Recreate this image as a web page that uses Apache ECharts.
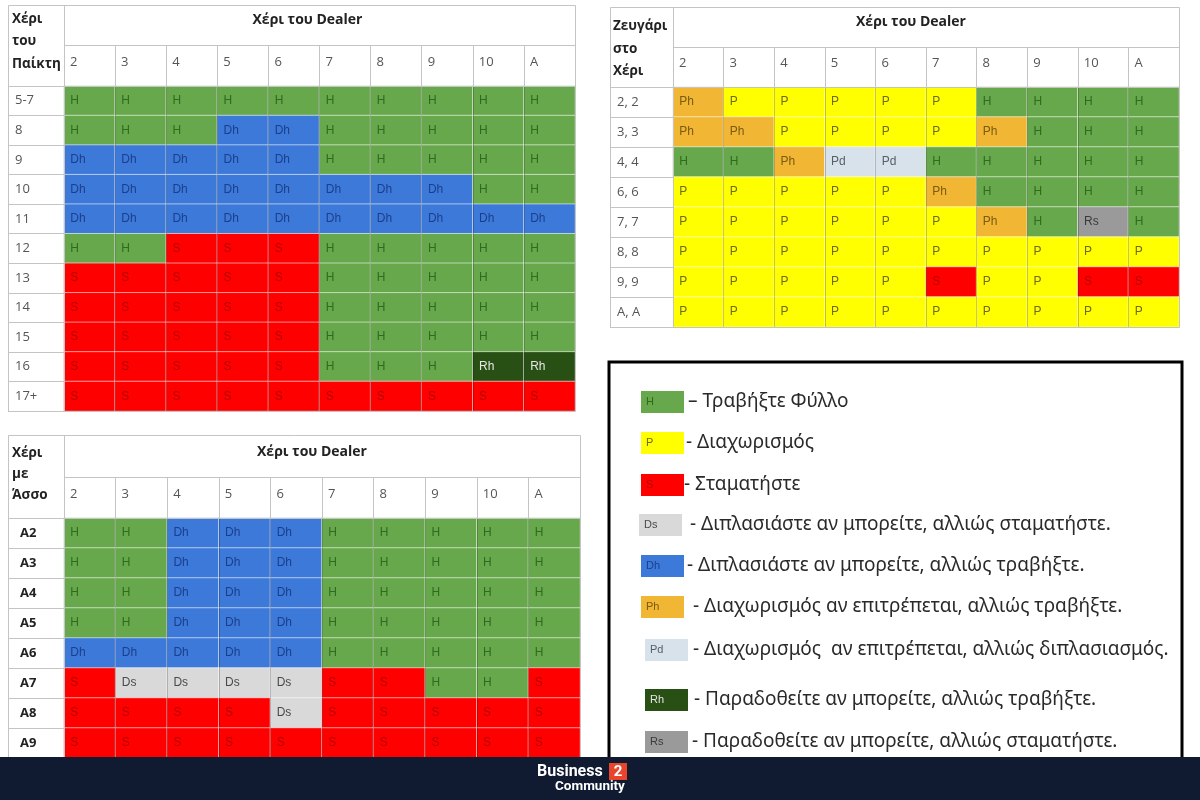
<!DOCTYPE html>
<html><head><meta charset="utf-8">
<script src="https://cdn.jsdelivr.net/npm/echarts@6/dist/echarts.min.js"></script>
<style>html,body{margin:0;padding:0;background:#fff}#c{width:1200px;height:800px}</style>
</head><body><div id="c"></div>
<script>
// ---------- DATA ----------
const dealerCards = ['2','3','4','5','6','7','8','9','10','A'];

const hardRows = ['5-7','8','9','10','11','12','13','14','15','16','17+'];
const hardActions = [
  ['H','H','H','H','H','H','H','H','H','H'],
  ['H','H','H','Dh','Dh','H','H','H','H','H'],
  ['Dh','Dh','Dh','Dh','Dh','H','H','H','H','H'],
  ['Dh','Dh','Dh','Dh','Dh','Dh','Dh','Dh','H','H'],
  ['Dh','Dh','Dh','Dh','Dh','Dh','Dh','Dh','Dh','Dh'],
  ['H','H','S','S','S','H','H','H','H','H'],
  ['S','S','S','S','S','H','H','H','H','H'],
  ['S','S','S','S','S','H','H','H','H','H'],
  ['S','S','S','S','S','H','H','H','H','H'],
  ['S','S','S','S','S','H','H','H','Rh','Rh'],
  ['S','S','S','S','S','S','S','S','S','S']
];

const softRows = ['A2','A3','A4','A5','A6','A7','A8','A9'];
const softActions = [
  ['H','H','Dh','Dh','Dh','H','H','H','H','H'],
  ['H','H','Dh','Dh','Dh','H','H','H','H','H'],
  ['H','H','Dh','Dh','Dh','H','H','H','H','H'],
  ['H','H','Dh','Dh','Dh','H','H','H','H','H'],
  ['Dh','Dh','Dh','Dh','Dh','H','H','H','H','H'],
  ['S','Ds','Ds','Ds','Ds','S','S','H','H','S'],
  ['S','S','S','S','Ds','S','S','S','S','S'],
  ['S','S','S','S','S','S','S','S','S','S']
];

const pairRows = ['2, 2','3, 3','4, 4','6, 6','7, 7','8, 8','9, 9','A, A'];
const pairActions = [
  ['Ph','P','P','P','P','P','H','H','H','H'],
  ['Ph','Ph','P','P','P','P','Ph','H','H','H'],
  ['H','H','Ph','Pd','Pd','H','H','H','H','H'],
  ['P','P','P','P','P','Ph','H','H','H','H'],
  ['P','P','P','P','P','P','Ph','H','Rs','H'],
  ['P','P','P','P','P','P','P','P','P','P'],
  ['P','P','P','P','P','S','P','P','S','S'],
  ['P','P','P','P','P','P','P','P','P','P']
];

const actionCodes = ['H','P','S','Ds','Dh','Ph','Pd','Rh','Rs'];
const actionDescriptions = [
  '– Τραβήξτε Φύλλο',
  '- Διαχωρισμός',
  '- Σταματήστε',
  '- Διπλασιάστε αν μπορείτε, αλλιώς σταματήστε.',
  '- Διπλασιάστε αν μπορείτε, αλλιώς τραβήξτε.',
  '- Διαχωρισμός αν επιτρέπεται, αλλιώς τραβήξτε.',
  '- Διαχωρισμός  αν επιτρέπεται, αλλιώς διπλασιασμός.',
  '- Παραδοθείτε αν μπορείτε, αλλιώς τραβήξτε.',
  '- Παραδοθείτε αν μπορείτε, αλλιώς σταματήστε.'
];

const tableTitles = ['Χέρι του Dealer','Χέρι του Dealer','Χέρι του Dealer'];
const cornerTitles = [['Χέρι','του','Παίκτη'],['Χέρι','με','Άσσο'],['Ζευγάρι','στο','Χέρι']];

// ---------- STYLES ----------
const actionStyle = {
  H:  {fill:'#68a84c', text:'#2f6a1e'},
  P:  {fill:'#ffff00', text:'#6b6b1a'},
  S:  {fill:'#ff0000', text:'#b40000'},
  Ds: {fill:'#d9d9d9', text:'#4a4a4a'},
  Dh: {fill:'#3d79d8', text:'#1b3f8c'},
  Ph: {fill:'#f1b634', text:'#7a5b10'},
  Pd: {fill:'#d8e2ea', text:'#55606a'},
  Rh: {fill:'#284f14', text:'#e6e6e6'},
  Rs: {fill:'#9a9a9a', text:'#3a3a3a'}
};
const GRIDC = '#c4c4c4';
const HEAD_FONT = 'Open Sans';
const CELL_FONT = 'Liberation Sans';

const tables = [
  {rows: hardRows, actions: hardActions, frame:{x:8,y:5,r:575}, grid:{left:64,top:86,width:511,height:325}, headSplit:45, labelX:15, rowBold:false, titleDx:24, cornerX:12, cornerY:[19,41,64]},
  {rows: softRows, actions: softActions, frame:{x:8,y:435,r:580}, grid:{left:64,top:518,width:516,height:240}, headSplit:477, labelX:20, rowBold:true, titleDx:20, cornerX:12, cornerY:[453,474,495]},
  {rows: pairRows, actions: pairActions, frame:{x:610,y:7,r:1179}, grid:{left:673,top:87,width:506,height:240}, headSplit:47, labelX:617, rowBold:false, titleDx:30, cornerX:613, cornerY:[26,49,71]}
];

const grids = [], xAxes = [], yAxes = [], series = [], graphics = [];

tables.forEach((t, i) => {
  const g = t.grid;
  grids.push({left:g.left, top:g.top, width:g.width, height:g.height, containLabel:false});
  const headH = g.top - t.headSplit;
  xAxes.push({
    gridIndex:i, type:'category', data:dealerCards, position:'top', z:5,
    axisLine:{show:true, lineStyle:{color:GRIDC, width:1}},
    axisTick:{show:true, interval:0, length:headH, lineStyle:{color:GRIDC, width:1}},
    axisLabel:{show:false, interval:0},
    splitLine:{show:true, interval:0, lineStyle:{color:'rgba(0,0,0,0.22)', width:1}},
    name: tableTitles[i], nameLocation:'middle', nameGap: g.top - t.headSplit + 18,
    nameTextStyle:{fontFamily:HEAD_FONT, fontWeight:'bold', fontSize:14, color:'#222', padding:[0, t.titleDx, 0, 0]}
  });
  xAxes.push({
    gridIndex:i, type:'category', boundaryGap:false, data:dealerCards.concat(['']), position:'top',
    axisLine:{show:false}, axisTick:{show:false}, splitLine:{show:false},
    axisLabel:{interval:0, align:'left', margin:17, padding:[0,0,0,6], color:'#555', fontSize:13, fontFamily:HEAD_FONT}
  });
  yAxes.push({
    gridIndex:i, type:'category', data:t.rows, inverse:true, z:5,
    axisLine:{show:true, lineStyle:{color:GRIDC}},
    axisTick:{show:true, interval:0, length: g.left - t.frame.x, lineStyle:{color:GRIDC}},
    axisLabel:{interval:0, align:'left', margin: g.left - t.labelX, color: t.rowBold ? '#222' : '#555',
      fontWeight: t.rowBold ? 'bold' : 'normal', fontSize:13, fontFamily:HEAD_FONT},
    splitLine:{show:false}
  });
  const data = [];
  t.actions.forEach((row, r) => row.forEach((a, c) => {
    const s = actionStyle[a];
    data.push({value:[c, r, actionCodes.indexOf(a)], itemStyle:{color:s.fill}, label:{color:s.text}});
  }));
  series.push({
    type:'heatmap', xAxisIndex: i*2, yAxisIndex: i, data,
    itemStyle:{borderColor:'rgba(255,255,255,0.55)', borderWidth:1},
    label:{show:true, position:'insideLeft', distance:7, fontSize:12, fontFamily:CELL_FONT,
      formatter: p => actionCodes[p.value[2]]},
    emphasis:{disabled:true}, silent:true, animation:false
  });
  const fx = t.frame.x, fy = t.frame.y, fr = t.frame.r, fb = g.top + g.height;
  graphics.push({type:'rect', shape:{x:fx+0.5, y:fy+0.5, width:fr-fx, height:fb-fy}, style:{fill:null, stroke:GRIDC, lineWidth:1}, z:10});
  graphics.push({type:'line', shape:{x1:g.left, y1:t.headSplit+0.5, x2:fr, y2:t.headSplit+0.5}, style:{stroke:GRIDC, lineWidth:1}, z:10});
  graphics.push({type:'line', shape:{x1:g.left+0.5, y1:fy, x2:g.left+0.5, y2:g.top}, style:{stroke:GRIDC, lineWidth:1}, z:10});
  cornerTitles[i].forEach((w, k) => {
    graphics.push({type:'text', x:t.cornerX, y:t.cornerY[k], style:{text:w, fontFamily:HEAD_FONT, fontWeight:'bold', fontSize:13.5, fill:'#222', textVerticalAlign:'middle'}, z:10});
  });
});

// legend box
graphics.push({type:'rect', shape:{x:609, y:362, width:573, height:430}, style:{fill:'#fff', stroke:'#000', lineWidth:3}, z:1});
const legendY = [402, 443, 485, 525, 566, 607, 650, 700, 742];
const legendSwX = [641, 641, 641, 639, 641, 641, 645, 645, 645];
const legendTxX = [688, 686, 684, 690, 687, 693, 693, 694, 692];
actionCodes.forEach((code, k) => {
  const s = actionStyle[code];
  const y = legendY[k];
  graphics.push({type:'rect', shape:{x:legendSwX[k], y:y-11, width:43, height:22}, style:{fill:s.fill}, z:11});
  graphics.push({type:'text', x:legendSwX[k]+5, y:y, style:{text:code, fontFamily:CELL_FONT, fontSize:11, fill:s.text, textVerticalAlign:'middle'}, z:12});
  graphics.push({type:'text', x:legendTxX[k], y:y, style:{text:actionDescriptions[k], fontFamily:'Noto Sans', fontSize:19, fill:'#2a2a2a', textVerticalAlign:'middle'}, z:12});
});

// footer
graphics.push({type:'rect', shape:{x:0, y:757, width:1200, height:43}, style:{fill:'#101b32'}, z:50});
graphics.push({type:'text', x:537, y:772, style:{text:'Business', fontFamily:'Roboto', fontWeight:'bold', fontSize:16, fill:'#ffffff', textVerticalAlign:'middle'}, z:51});
graphics.push({type:'rect', shape:{x:609, y:763, width:18, height:17}, style:{fill:'#e8452c'}, z:51});
graphics.push({type:'text', x:618, y:772, style:{text:'2', fontFamily:'Roboto', fontWeight:'bold', fontSize:15, fill:'#ffffff', textAlign:'center', textVerticalAlign:'middle'}, z:52});
graphics.push({type:'text', x:555, y:787, style:{text:'Community', fontFamily:'Roboto', fontWeight:'bold', fontSize:13.5, fill:'#ffffff', textVerticalAlign:'middle'}, z:51});

const chart = echarts.init(document.getElementById('c'));
chart.setOption({
  animation:false,
  backgroundColor:'#ffffff',
  grid: grids, xAxis: xAxes, yAxis: yAxes, series,
  graphic: graphics
});
</script></body></html>
